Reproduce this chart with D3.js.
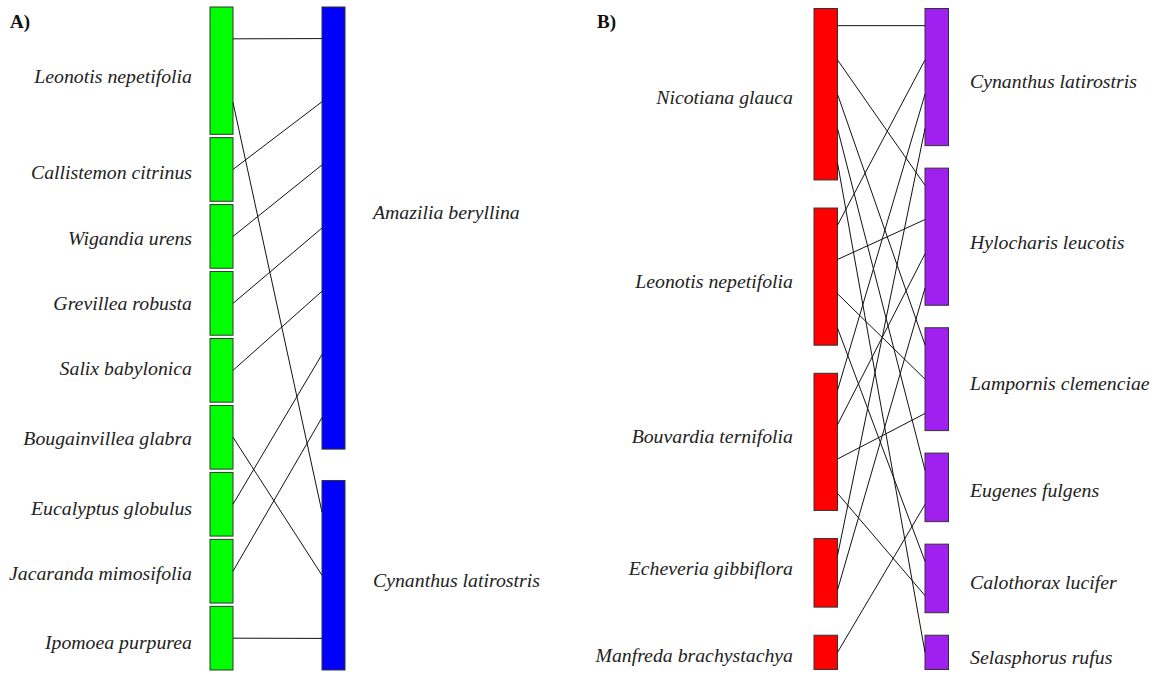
<!DOCTYPE html>
<html>
<head>
<meta charset="utf-8">
<script src="https://cdn.jsdelivr.net/npm/d3@7"></script>
<style>
  body { margin: 0; background: #fff; }
</style>
</head>
<body>
<div id="chart"></div>
<script>
// plants (lower level) and hummingbirds (upper level) for each web
const plantsA = ["Leonotis nepetifolia", "Callistemon citrinus", "Wigandia urens",
  "Grevillea robusta", "Salix babylonica", "Bougainvillea glabra",
  "Eucalyptus globulus", "Jacaranda mimosifolia", "Ipomoea purpurea"];
const birdsA = ["Amazilia beryllina", "Cynanthus latirostris"];
// rows = plants, columns = birds
const webA = [
  [1, 1],
  [1, 0],
  [1, 0],
  [1, 0],
  [1, 0],
  [0, 1],
  [1, 0],
  [1, 0],
  [0, 1]
];

const plantsB = ["Nicotiana glauca", "Leonotis nepetifolia", "Bouvardia ternifolia",
  "Echeveria gibbiflora", "Manfreda brachystachya"];
const birdsB = ["Cynanthus latirostris", "Hylocharis leucotis", "Lampornis clemenciae",
  "Eugenes fulgens", "Calothorax lucifer", "Selasphorus rufus"];
const webB = [
  [1, 1, 1, 1, 0, 1],
  [1, 1, 1, 0, 1, 0],
  [1, 1, 1, 0, 1, 0],
  [1, 1, 0, 0, 0, 0],
  [0, 0, 0, 1, 0, 0]
];

const W = 1159, H = 674;

const svg = d3.select("#chart")
  .append("svg")
  .attr("width", W)
  .attr("height", H)
  .style("font-family", "'Liberation Serif', 'Times New Roman', serif");

// layout of each panel (label nudges are small vertical offsets in px)
const panels = [
  {tag: "A)", tagX: 10, tagY: 28, plants: plantsA, birds: birdsA, web: webA,
   lowX: 210, highX: 322, boxW: 23, top: 7, bottom: 670,
   lowGap: 3.3, highGap: 31.4, lowCol: "#00ff00", highCol: "#0000ff",
   lowLabX: 192, highLabX: 373,
   lowDy: [5, 3, 2, 0, -2, 1, 4, 2, 4], highDy: [-16, 5]},
  {tag: "B)", tagX: 597, tagY: 28, plants: plantsB, birds: birdsB, web: webB,
   lowX: 814, highX: 925, boxW: 23.5, top: 8.5, bottom: 669.5,
   lowGap: 28.1, highGap: 22.5, lowCol: "#ff0000", highCol: "#a020f0",
   lowLabX: 793, highLabX: 970,
   lowDy: [3, 4, -6, -5, 3], highDy: [4, 5, 4, 3, 4, 5]}
];

// lay out one column of boxes: box height proportional to number of links
function column(degrees, gap, top, bottom) {
  const total = d3.sum(degrees);
  const y = d3.scaleLinear()
    .domain([0, total])
    .range([top, bottom - gap * (degrees.length - 1)]);
  let cum = 0;
  return degrees.map((d, i) => {
    const b = {y0: y(cum) + gap * i, y1: y(cum + d) + gap * i, unit: y(1) - y(0)};
    cum += d;
    return b;
  });
}

panels.forEach(p => {
  const g = svg.append("g");
  const lowDeg = p.web.map(r => d3.sum(r));
  const highDeg = p.birds.map((b, j) => d3.sum(p.web, r => r[j]));
  const lowBoxes = column(lowDeg, p.lowGap, p.top, p.bottom);
  const highBoxes = column(highDeg, p.highGap, p.top, p.bottom);

  // link endpoints: slot order follows partner order
  const links = [];
  const lowSlot = lowDeg.map(() => 0), highSlot = highDeg.map(() => 0);
  p.web.forEach((row, i) => row.forEach((v, j) => {
    if (v) links.push({i, j});
  }));
  links.forEach(l => {
    l.ya = lowBoxes[l.i].y0 + (lowSlot[l.i]++ + 0.5) * lowBoxes[l.i].unit;
  });
  // for upper level, order by plant index
  links.slice().sort((a, b) => a.j - b.j || a.i - b.i).forEach(l => {
    l.yb = highBoxes[l.j].y0 + (highSlot[l.j]++ + 0.5) * highBoxes[l.j].unit;
  });

  g.selectAll("rect.low")
    .data(lowBoxes)
    .join("rect")
    .attr("x", p.lowX)
    .attr("y", d => d.y0)
    .attr("width", p.boxW)
    .attr("height", d => d.y1 - d.y0)
    .attr("fill", p.lowCol)
    .attr("stroke", "#333")
    .attr("stroke-width", 1);

  g.append("g").selectAll("rect")
    .data(highBoxes)
    .join("rect")
    .attr("x", p.highX)
    .attr("y", d => d.y0)
    .attr("width", p.boxW)
    .attr("height", d => d.y1 - d.y0)
    .attr("fill", p.highCol)
    .attr("stroke", "#333")
    .attr("stroke-width", 1);

  g.append("g").selectAll("line")
    .data(links)
    .join("line")
    .attr("x1", p.lowX + p.boxW)
    .attr("y1", d => d.ya)
    .attr("x2", p.highX)
    .attr("y2", d => d.yb)
    .attr("stroke", "#111")
    .attr("stroke-width", 1);

  g.append("g").selectAll("text")
    .data(p.plants)
    .join("text")
    .attr("x", p.lowLabX)
    .attr("y", (d, i) => (lowBoxes[i].y0 + lowBoxes[i].y1) / 2 + p.lowDy[i])
    .attr("text-anchor", "end")
    .attr("dominant-baseline", "central")
    .style("font-style", "italic")
    .style("font-size", "19.8px")
    .attr("fill", "#222")
    .text(d => d);

  g.append("g").selectAll("text")
    .data(p.birds)
    .join("text")
    .attr("x", p.highLabX)
    .attr("y", (d, i) => (highBoxes[i].y0 + highBoxes[i].y1) / 2 + p.highDy[i])
    .attr("text-anchor", "start")
    .attr("dominant-baseline", "central")
    .style("font-style", "italic")
    .style("font-size", "19.8px")
    .attr("fill", "#222")
    .text(d => d);

  svg.append("text")
    .attr("x", p.tagX)
    .attr("y", p.tagY)
    .style("font-weight", "bold")
    .style("font-size", "19px")
    .attr("fill", "#111")
    .text(p.tag);
});
</script>
</body>
</html>
